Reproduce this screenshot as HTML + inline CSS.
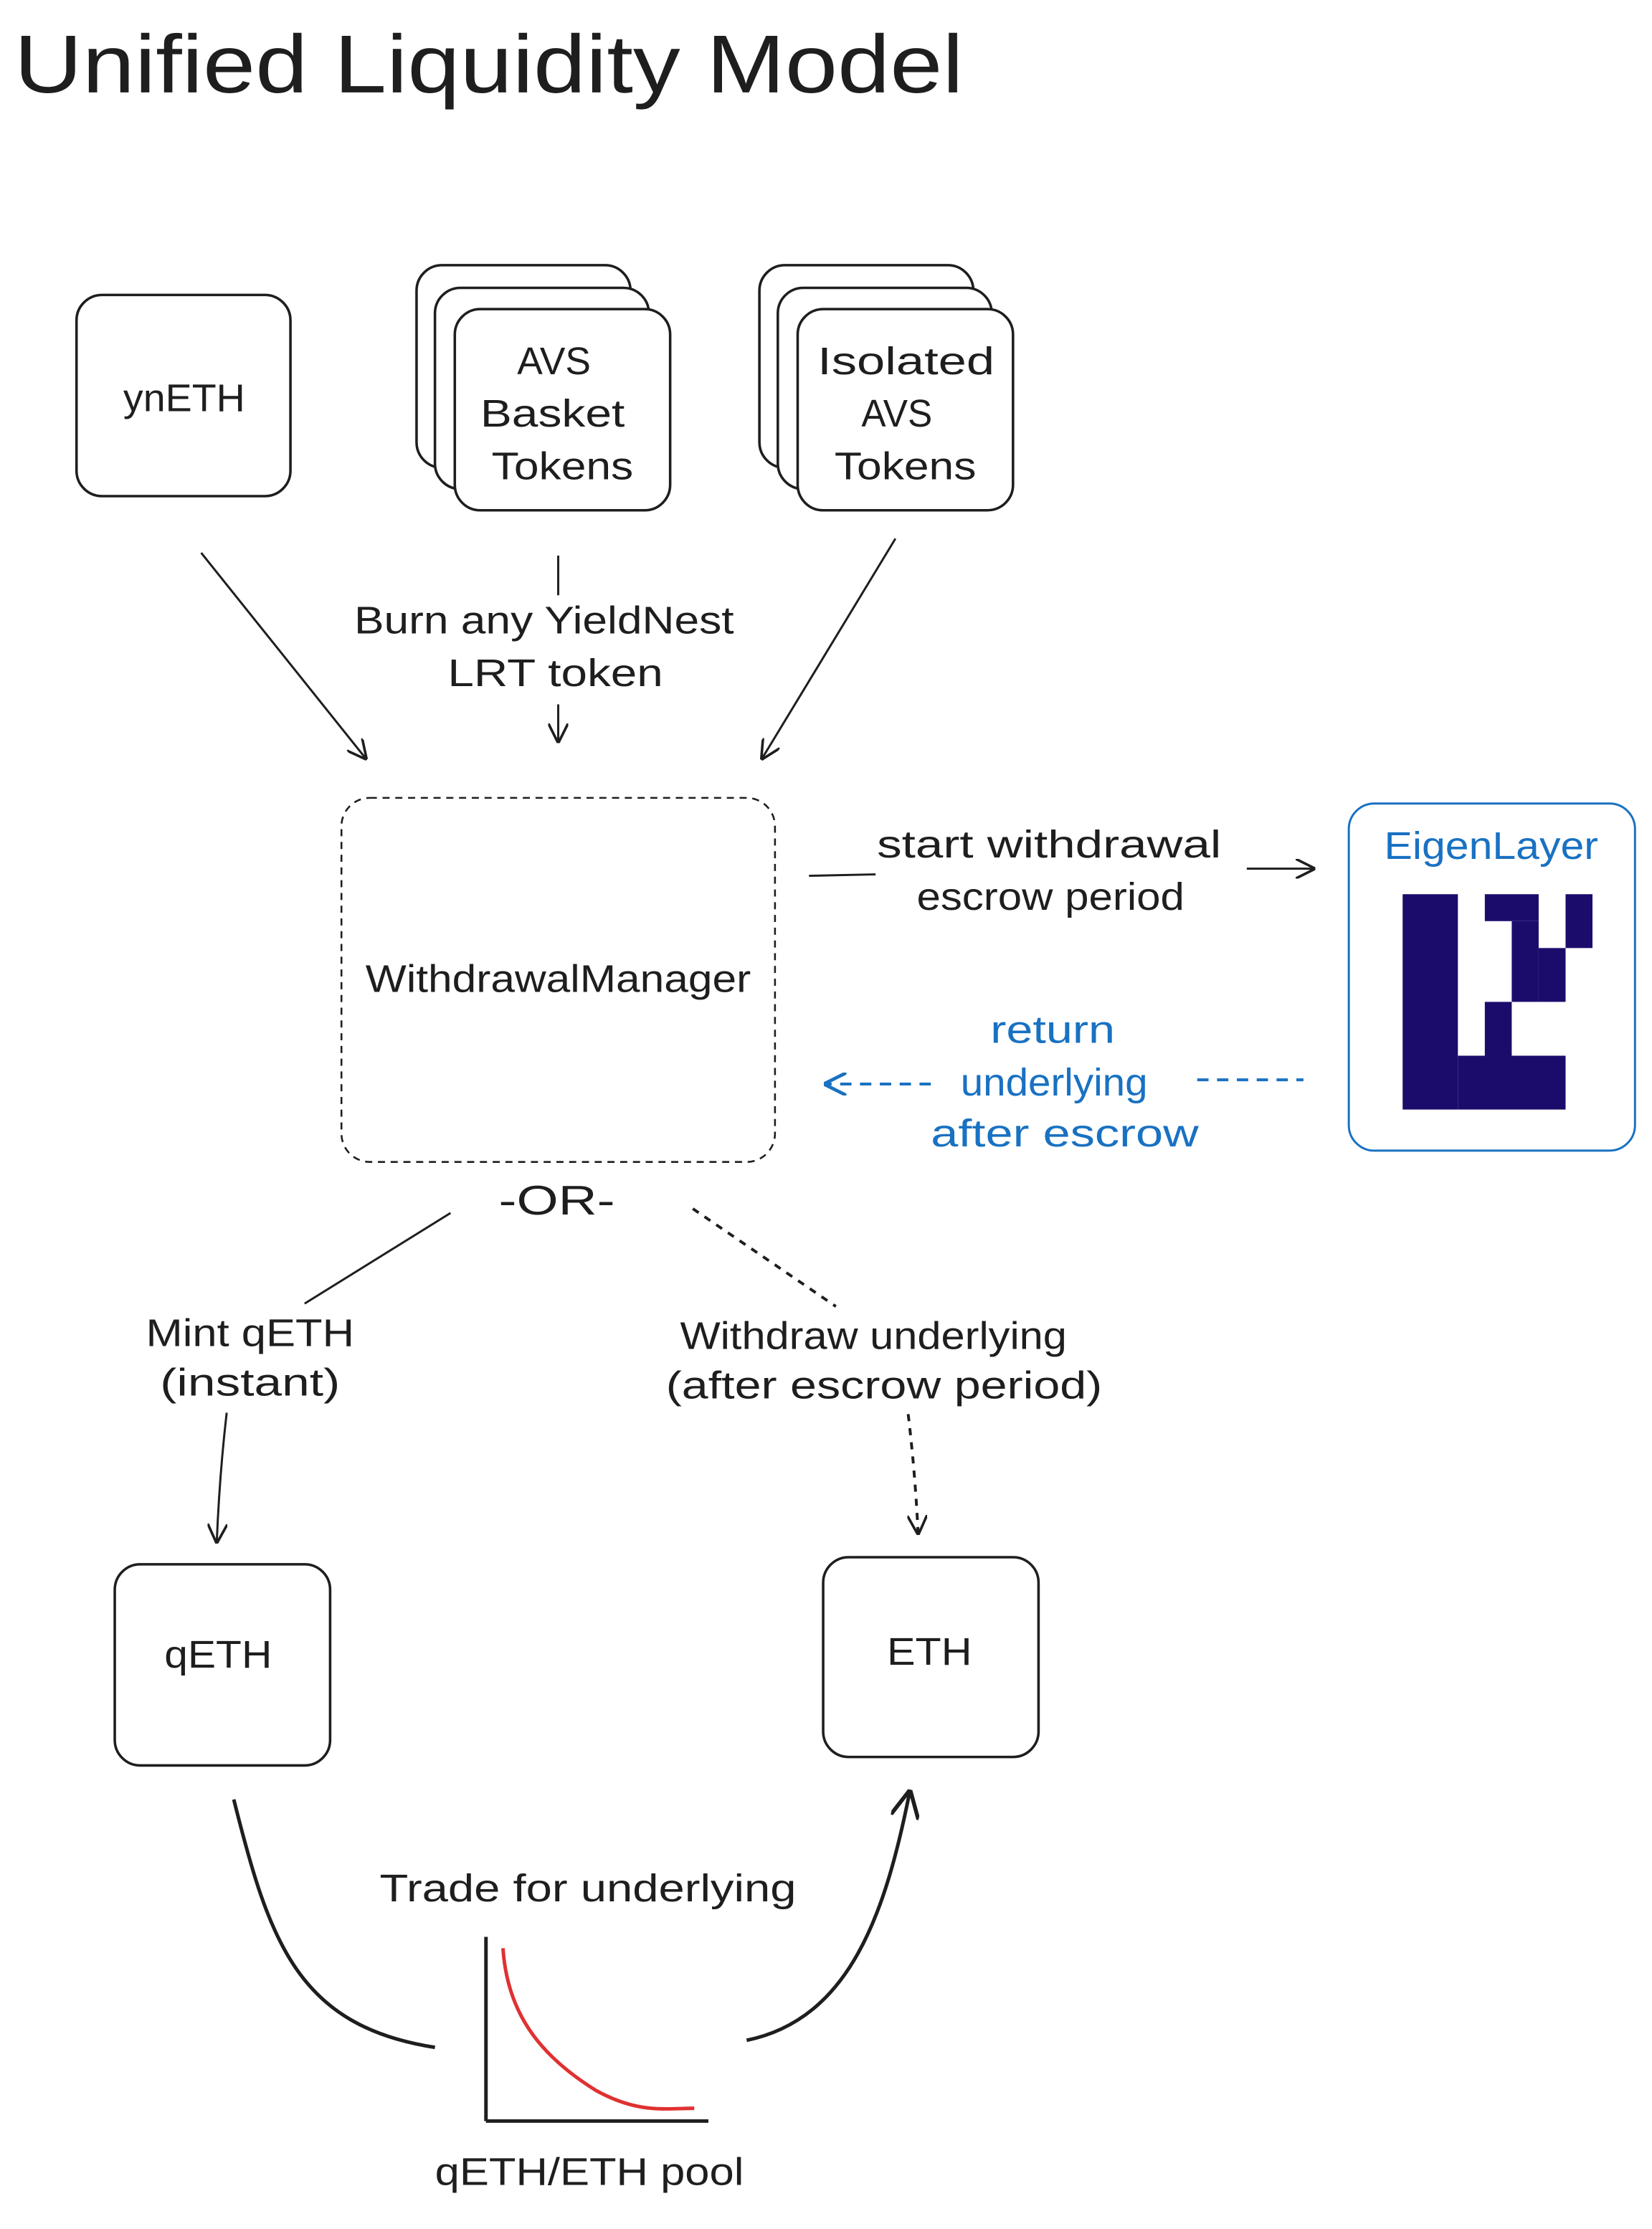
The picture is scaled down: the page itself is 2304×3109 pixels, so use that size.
<!DOCTYPE html>
<html><head><meta charset="utf-8"><style>
html,body{margin:0;padding:0;background:#fff;}
svg{display:block;}
text{font-family:"Liberation Sans",sans-serif;fill:#1e1e1e;}
</style></head><body>
<svg width="2304" height="3109" viewBox="0 0 1166 1573" xmlns="http://www.w3.org/2000/svg">
<defs>
<marker id="ah" viewBox="0 0 10 10" refX="9" refY="5" markerWidth="14" markerHeight="14" markerUnits="userSpaceOnUse" orient="auto"><path d="M0,0 L10,5 L0,10" fill="none" stroke="#1e1e1e" stroke-width="1.3"/></marker>
<marker id="ahb" viewBox="0 0 10 10" refX="9" refY="5" markerWidth="16" markerHeight="16" markerUnits="userSpaceOnUse" orient="auto"><path d="M0,0 L10,5 L0,10" fill="none" stroke="#1971c2" stroke-width="1.5"/></marker>
<marker id="ahk" viewBox="0 0 10 10" refX="9" refY="5" markerWidth="20" markerHeight="20" markerUnits="userSpaceOnUse" orient="auto"><path d="M0,0 L10,5 L0,10" fill="none" stroke="#1e1e1e" stroke-width="1.4"/></marker>
</defs>
<rect width="1166" height="1573" fill="#fff"/>
<text x="10" y="65" font-size="58" textLength="670" lengthAdjust="spacingAndGlyphs">Unified Liquidity Model</text>

<g fill="#fff" stroke="#1e1e1e" stroke-width="1.8">
<rect x="54" y="208" width="151" height="142" rx="18"/>
<rect x="294" y="187" width="151" height="143" rx="18"/>
<rect x="307" y="203" width="151" height="142" rx="18"/>
<rect x="321" y="218" width="152" height="142" rx="18"/>
<rect x="536" y="187" width="151" height="143" rx="18"/>
<rect x="549" y="203" width="151" height="142" rx="18"/>
<rect x="563" y="218" width="152" height="142" rx="18"/>
<rect x="81" y="1104" width="152" height="142" rx="18"/>
<rect x="581" y="1099" width="152" height="141" rx="18"/>
</g>
<rect x="241" y="563" width="306" height="257" rx="20" fill="none" stroke="#1e1e1e" stroke-width="1.3" stroke-dasharray="5 4"/>
<rect x="952" y="567" width="202" height="245" rx="18" fill="#fff" stroke="#1971c2" stroke-width="1.5"/>

<g font-size="27" lengthAdjust="spacingAndGlyphs">
<text x="87" y="290" textLength="86" lengthAdjust="spacingAndGlyphs">ynETH</text>
<text x="365" y="264" textLength="52" lengthAdjust="spacingAndGlyphs">AVS</text>
<text x="339" y="301" textLength="102" lengthAdjust="spacingAndGlyphs">Basket</text>
<text x="347" y="338" textLength="100" lengthAdjust="spacingAndGlyphs">Tokens</text>
<text x="577" y="264" textLength="125" lengthAdjust="spacingAndGlyphs">Isolated</text>
<text x="608" y="301" textLength="50" lengthAdjust="spacingAndGlyphs">AVS</text>
<text x="589" y="338" textLength="100" lengthAdjust="spacingAndGlyphs">Tokens</text>
<text x="250" y="447" textLength="268" lengthAdjust="spacingAndGlyphs">Burn any YieldNest</text>
<text x="316" y="484" textLength="152" lengthAdjust="spacingAndGlyphs">LRT token</text>
<text x="258" y="700" textLength="272" lengthAdjust="spacingAndGlyphs">WithdrawalManager</text>
<text x="619" y="605" textLength="243" lengthAdjust="spacingAndGlyphs">start withdrawal</text>
<text x="647" y="642" textLength="189" lengthAdjust="spacingAndGlyphs">escrow period</text>
<text x="352" y="857" font-size="29" textLength="82" lengthAdjust="spacingAndGlyphs">-OR-</text>
<text x="103" y="950" textLength="147" lengthAdjust="spacingAndGlyphs">Mint qETH</text>
<text x="113" y="985" textLength="127" lengthAdjust="spacingAndGlyphs">(instant)</text>
<text x="480" y="952" textLength="273" lengthAdjust="spacingAndGlyphs">Withdraw underlying</text>
<text x="470" y="987" textLength="308" lengthAdjust="spacingAndGlyphs">(after escrow period)</text>
<text x="116" y="1177" textLength="76" lengthAdjust="spacingAndGlyphs">qETH</text>
<text x="626" y="1175" textLength="60" lengthAdjust="spacingAndGlyphs">ETH</text>
<text x="268" y="1342" textLength="294" lengthAdjust="spacingAndGlyphs">Trade for underlying</text>
<text x="307" y="1542" textLength="218" lengthAdjust="spacingAndGlyphs">qETH/ETH pool</text>
</g>
<g font-size="27">
<text x="977" y="606" textLength="151" lengthAdjust="spacingAndGlyphs" style="fill:#1971c2">EigenLayer</text>
<text x="699" y="736" textLength="88" lengthAdjust="spacingAndGlyphs" style="fill:#1971c2">return</text>
<text x="678" y="773" textLength="132" lengthAdjust="spacingAndGlyphs" style="fill:#1971c2">underlying</text>
<text x="657" y="809" textLength="189" lengthAdjust="spacingAndGlyphs" style="fill:#1971c2">after escrow</text>
</g>

<g fill="#1b0c6c">
<rect x="990" y="631" width="39" height="152"/>
<rect x="1029" y="745" width="76" height="38"/>
<rect x="1048" y="707" width="19" height="38"/>
<rect x="1048" y="631" width="38" height="19"/>
<rect x="1067" y="650" width="19" height="57"/>
<rect x="1086" y="669" width="19" height="38"/>
<rect x="1105" y="631" width="19" height="38"/>
</g>

<g fill="none" stroke="#1e1e1e" stroke-width="1.5">
<line x1="142" y1="390" x2="258" y2="535" marker-end="url(#ah)"/>
<line x1="394" y1="392" x2="394" y2="420"/>
<line x1="394" y1="497" x2="394" y2="523" marker-end="url(#ah)"/>
<line x1="632" y1="380" x2="538" y2="535" marker-end="url(#ah)"/>
<line x1="571" y1="618" x2="618" y2="617"/>
<line x1="880" y1="613" x2="927" y2="613" marker-end="url(#ah)"/>
<line x1="318" y1="856" x2="215" y2="920"/>
<path d="M160,997 Q155,1040 153,1088" marker-end="url(#ah)"/>
<line x1="489" y1="853" x2="590" y2="922" stroke-dasharray="5 5" stroke-width="2"/>
<path d="M641,998 Q646,1040 648,1082" stroke-dasharray="5 5" stroke-width="2" marker-end="url(#ah)"/>
<path d="M165,1270 C190,1370 210,1430 307,1445" stroke-width="2.5"/>
<path d="M527,1440 C600,1425 625,1350 642,1265" stroke-width="2.5" marker-end="url(#ahk)"/>
<line x1="343" y1="1367" x2="343" y2="1497" stroke-width="2.5"/>
<line x1="343" y1="1497" x2="500" y2="1497" stroke-width="2.5"/>
</g>
<path d="M355,1375 C358,1420 380,1450 420,1475 C450,1492 470,1488 490,1488" fill="none" stroke="#e03131" stroke-width="2.5"/>
<g fill="none" stroke="#1971c2" stroke-width="2" stroke-dasharray="8 6">
<line x1="657" y1="765" x2="583" y2="765" marker-end="url(#ahb)"/>
<line x1="845" y1="762" x2="920" y2="762"/>
</g>
</svg>
</body></html>
